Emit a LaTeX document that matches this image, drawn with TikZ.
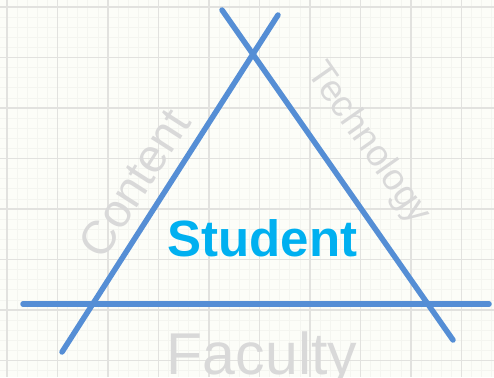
\documentclass[tikz,border=0pt]{standalone}
\usepackage{fontspec}
\setmainfont{Liberation Sans}
\definecolor{bgc}{HTML}{FCFDF8}
\definecolor{gridmaj}{HTML}{E2E2DF}
\definecolor{gridmin}{HTML}{F4F5F0}
\definecolor{lineblue}{HTML}{558ED5}
\definecolor{stucyan}{HTML}{00B0F0}
\definecolor{lblgray}{HTML}{D9D9D9}
\tikzset{
  side/.style={draw=lineblue, line width=5.5pt, line cap=round},
  sidelabel/.style={text=lblgray, inner sep=0pt, anchor=center},
  majgrid/.style={draw=gridmaj, line width=1.6pt},
  mingrid/.style={draw=gridmin, line width=0.7pt}
}
\begin{document}
\begin{tikzpicture}[x=1pt,y=-1pt]
\useasboundingbox (0,0) rectangle (494,377);
\fill[bgc] (0,0) rectangle (494,377);
% minor grid
\foreach \i in {0,...,50} {
  \pgfmathsetmacro\p{7+10.1*(\i-1)}
  \draw[mingrid] (\p,0) -- (\p,377);
  \draw[mingrid] (0,\p) -- (494,\p);
}
% major grid
\foreach \i in {0,...,10} {
  \pgfmathsetmacro\p{7+50.5*\i}
  \draw[majgrid] (\p,0) -- (\p,377);
  \draw[majgrid] (0,\p) -- (494,\p);
}
% endpoints
\coordinate (l1a) at (222,10);
\coordinate (l1b) at (453,340);
\coordinate (l2a) at (278,15);
\coordinate (l2b) at (62,352);
\coordinate (ha) at (23,304);
\coordinate (hb) at (489,304);
% labels
\node[sidelabel, font=\fontsize{47}{47}\selectfont, rotate=57.3] (content) at (134,183) {Content};
\node[sidelabel, font=\fontsize{37}{37}\selectfont, rotate=-55] (tech) at (368,144) {Technology};
\node[sidelabel, font=\fontsize{59}{59}\selectfont, anchor=base] (faculty) at (262,374) {Faculty};
\node[text=stucyan, inner sep=0pt, anchor=base, font=\fontsize{51}{51}\selectfont\bfseries] (student) at (262.5,256) {Student};
% sides
\draw[side] (l1a) -- (l1b);
\draw[side] (l2a) -- (l2b);
\draw[side] (ha) -- (hb);
\end{tikzpicture}
\end{document}
